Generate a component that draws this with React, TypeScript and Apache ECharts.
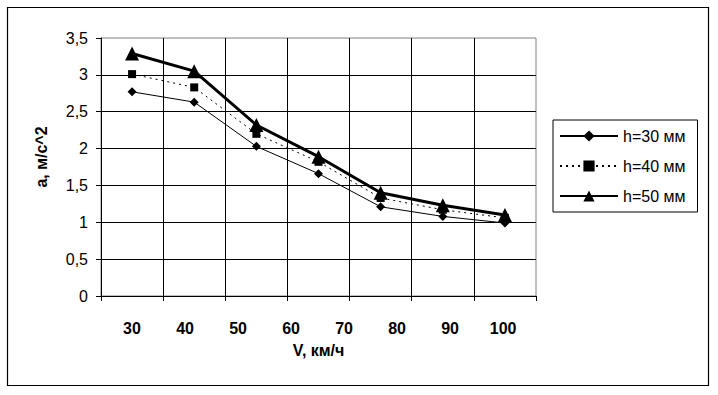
import React, { useEffect, useRef } from "react";
import * as echarts from "echarts";

const pointCategories = ["30", "40", "50", "60", "70", "80", "90"];
const xTickLabels = [30, 40, 50, 60, 70, 80, 90, 100];
const h30 = [2.77, 2.63, 2.03, 1.66, 1.21, 1.08, 0.99];
const h40 = [3.01, 2.83, 2.2, 1.82, 1.33, 1.17, 1.06];
const h50 = [3.29, 3.05, 2.32, 1.89, 1.4, 1.23, 1.1];

const FONT = "'Liberation Sans', Arial, sans-serif";

export default function App() {
  const ref = useRef<HTMLDivElement>(null);
  useEffect(() => {
    if (!ref.current) return;
    const chart = echarts.init(ref.current, undefined, { renderer: "svg" });
    chart.setOption({
      animation: false,
      backgroundColor: "#fff",
      textStyle: { fontFamily: FONT, color: "#000" },
      grid: {
        left: 101,
        top: 38,
        right: 182,
        bottom: 99,
        show: true,
        borderColor: "#808080",
        borderWidth: 1,
        backgroundColor: "transparent",
      },
      graphic: [
        {
          type: "rect",
          shape: { x: 7.5, y: 7.5, width: 701, height: 378 },
          style: { fill: "none", stroke: "#000", lineWidth: 1.2 },
          silent: true,
          z: 100,
        },
        {
          type: "text",
          x: 41,
          y: 157,
          rotation: Math.PI / 2,
          style: {
            text: "a, м/с^2",
            fontSize: 16,
            fontWeight: "bold",
            fontFamily: FONT,
            fill: "#000",
            align: "center",
            verticalAlign: "middle",
          },
          silent: true,
        },
      ],
      legend: {
        orient: "vertical",
        left: 553,
        top: 120,
        borderColor: "#000",
        borderWidth: 1,
        backgroundColor: "#fff",
        padding: [8, 12, 8, 6],
        itemGap: 14,
        itemWidth: 58,
        itemHeight: 14,
        textStyle: { fontSize: 16, fontFamily: FONT, color: "#000" },
        data: ["h=30 мм", "h=40 мм", "h=50 мм"],
      },
      xAxis: [
        {
          type: "category",
          data: pointCategories,
          boundaryGap: true,
          axisLine: { lineStyle: { color: "#000", width: 1 } },
          axisTick: { show: true, length: 5, lineStyle: { color: "#000" } },
          axisLabel: { show: false },
          splitLine: {
            show: true,
            showMaxLine: false,
            lineStyle: { color: "#000", width: 1 },
          },
        },
        {
          type: "value",
          position: "bottom",
          min: 24.15,
          max: 106.2,
          axisLine: { show: false },
          axisTick: { show: false },
          splitLine: { show: false },
          axisLabel: {
            customValues: xTickLabels,
            fontSize: 16,
            fontWeight: "bold",
            fontFamily: FONT,
            color: "#000",
            margin: 24,
            formatter: (v: number) => String(Math.round(v)),
          },
          name: "V, км/ч",
          nameLocation: "middle",
          nameGap: 46,
          nameTextStyle: { fontSize: 16, fontWeight: "bold", fontFamily: FONT, color: "#000" },
        },
      ],
      yAxis: {
        type: "value",
        min: 0,
        max: 3.5,
        interval: 0.5,
        axisLine: { show: true, lineStyle: { color: "#000", width: 1 } },
        axisTick: { show: true, length: 5, lineStyle: { color: "#000" } },
        axisLabel: {
          fontSize: 16,
          fontFamily: FONT,
          color: "#000",
          margin: 13,
          formatter: (v: number) => String(v).replace(".", ","),
        },
        splitLine: {
          show: true,
          showMaxLine: false,
          lineStyle: { color: "#000", width: 1 },
        },
      },
      series: [
        {
          name: "h=30 мм",
          type: "line",
          xAxisIndex: 0,
          data: h30,
          symbol: "diamond",
          symbolSize: 9,
          lineStyle: { color: "#000", width: 1 },
          itemStyle: { color: "#000" },
          z: 3,
        },
        {
          name: "h=40 мм",
          type: "line",
          xAxisIndex: 0,
          data: h40,
          symbol: "rect",
          symbolSize: 8,
          lineStyle: { color: "#000", width: 1, type: [2, 4] },
          itemStyle: { color: "#000" },
          z: 4,
        },
        {
          name: "h=50 мм",
          type: "line",
          xAxisIndex: 0,
          data: h50,
          symbol: "triangle",
          symbolSize: 14,
          lineStyle: { color: "#000", width: 3 },
          itemStyle: { color: "#000" },
          z: 5,
        },
      ],
    });
    return () => chart.dispose();
  }, []);
  return (
    <div
      ref={ref}
      style={{ position: "absolute", left: 0, top: 0, width: 718, height: 395 }}
    />
  );
}
